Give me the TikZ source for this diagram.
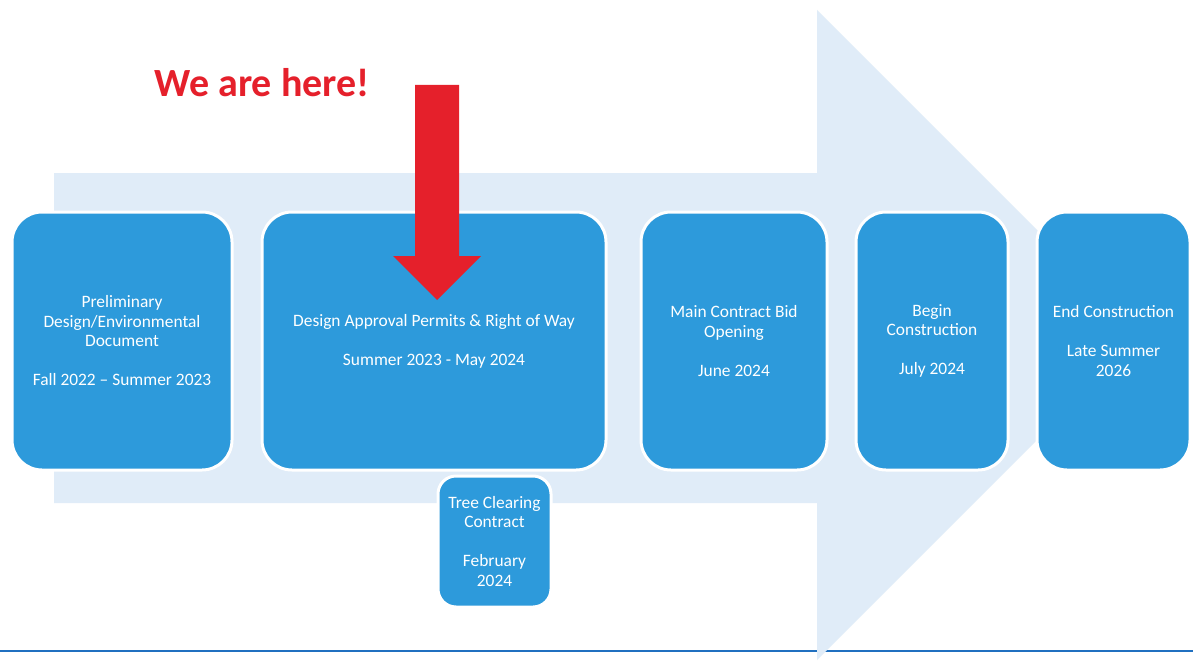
\documentclass[tikz,border=0pt]{standalone}
\usepackage{fontspec}
\setmainfont{Carlito}
\definecolor{stageblue}{RGB}{45,154,219}
\definecolor{flowblue}{RGB}{224,236,248}
\definecolor{markred}{RGB}{229,32,43}
\definecolor{ruleblue}{RGB}{32,112,192}
\begin{document}
\begin{tikzpicture}[x=1pt,y=-1pt,
  stage/.style={draw=white, line width=3pt, fill=stageblue, rounded corners=30pt,
    text=white, align=center, inner sep=0pt,
    font=\fontsize{17.4}{19.5}\selectfont},
  smallstage/.style={stage, rounded corners=18pt},
]
% canvas
\useasboundingbox (0,0) rectangle (1193,666);
\fill[white] (0,0) rectangle (1193,666);

% footer rule
\draw[ruleblue, line width=2pt] (0,651) -- (1193,651);

% large background flow arrow
\fill[flowblue] (54,173) -- (817,173) -- (817,10) -- (1142,335) -- (817,660)
  -- (817,503) -- (54,503) -- cycle;

% project stages
\node[stage, minimum width=220pt, minimum height=258pt] (prelim) at (122,341)
  {Preliminary\\Design/Environmental\\Document\\[19.5pt]Fall 2022 -- Summer 2023};
\node[stage, minimum width=344pt, minimum height=258pt] (approval) at (434,341)
  {Design Approval Permits \& Right of Way\\[19.5pt]Summer 2023 - May 2024};
\node[stage, minimum width=186pt, minimum height=258pt] (bid) at (734,341)
  {Main Contract Bid\\Opening\\[19.5pt]June 2024};
\node[stage, minimum width=152pt, minimum height=258pt] (begin) at (932,341)
  {Begin\\Construction\\[19.5pt]July 2024};
\node[stage, minimum width=153pt, minimum height=258pt] (finish) at (1113.5,341)
  {End Construction\\[19.5pt]Late Summer\\2026};
\node[smallstage, minimum width=113pt, minimum height=131pt] (trees) at (494.5,541.5)
  {Tree Clearing\\Contract\\[19.5pt]February\\2024};

% current position marker
\node[anchor=base, text=markred, font=\bfseries\fontsize{40}{46}\selectfont]
  (here) at (262,97) {We are here!};
\fill[markred] (415,85) -- (459,85) -- (459,256) -- (481,256) -- (437,300)
  -- (393,256) -- (415,256) -- cycle;
\end{tikzpicture}
\end{document}
